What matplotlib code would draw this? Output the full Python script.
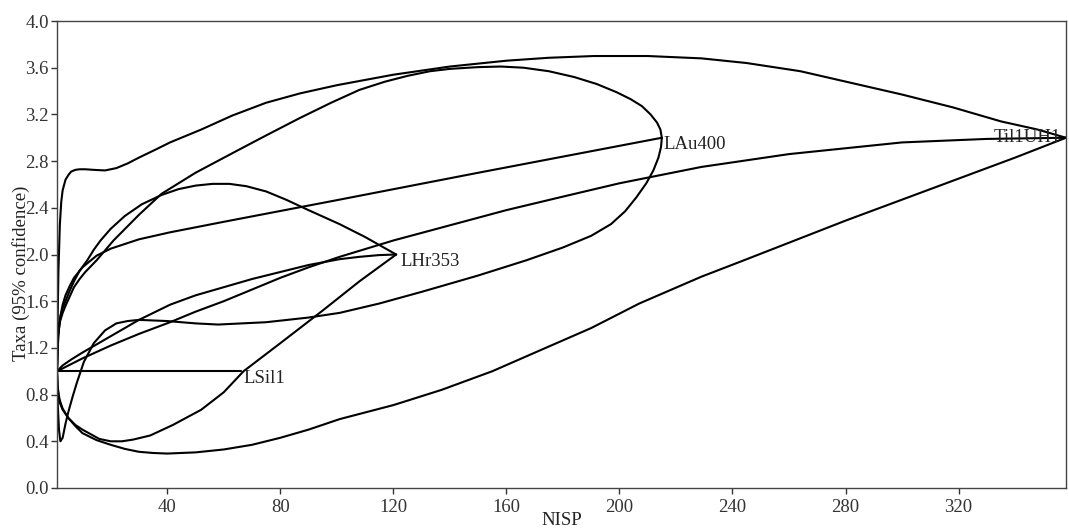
import matplotlib
matplotlib.use("Agg")
import matplotlib.pyplot as plt

# ---- data (NISP, taxa) ----
lsil1_x = [1, 66]
lsil1_y = [1.0, 1.0]

lhr_mean_x = [1, 3, 6, 10, 15, 20, 30, 41, 50, 60, 70, 80, 90, 101, 108, 115, 121]
lhr_mean_y = [1.0, 1.05, 1.1, 1.16, 1.23, 1.3, 1.44, 1.57, 1.65, 1.72, 1.79, 1.85, 1.91, 1.96, 1.98, 1.995, 2.0]
lhr_up_x = [1, 1.3, 2, 3, 4, 5.5, 7, 9, 11.7, 14, 16.4, 20, 25, 31, 38, 44, 50, 56, 62, 68, 75, 82, 90, 101, 110, 121]
lhr_up_y = [1.0, 1.3, 1.45, 1.54, 1.6, 1.69, 1.77, 1.86, 1.95, 2.04, 2.12, 2.22, 2.33, 2.43, 2.51, 2.56, 2.59, 2.605, 2.605, 2.585, 2.54, 2.47, 2.38, 2.26, 2.15, 2.0]
lhr_lo_x = [1, 1.2, 1.6, 2, 3, 5, 7.5, 10, 13, 16, 20, 24, 28, 34, 42, 52, 60, 67, 80, 95, 108, 121]
lhr_lo_y = [1.0, 0.88, 0.8, 0.75, 0.68, 0.6, 0.54, 0.5, 0.46, 0.42, 0.40, 0.40, 0.415, 0.45, 0.54, 0.67, 0.82, 1.0, 1.24, 1.52, 1.77, 2.0]

lau_mean_x = [1, 1.3, 1.7, 2.2, 3, 4, 5.5, 7, 10, 15, 20, 30, 41, 60, 101, 150, 215]
lau_mean_y = [1.0, 1.22, 1.36, 1.47, 1.57, 1.65, 1.73, 1.8, 1.89, 1.99, 2.05, 2.13, 2.19, 2.28, 2.47, 2.7, 3.0]
lau_up_x = [1, 1.3, 2, 3, 4, 5.5, 7, 9, 11, 15, 21, 30, 38, 50, 64, 75, 87, 98, 108, 117, 125, 133, 140, 150, 158, 166, 175, 184, 192, 199, 204, 208, 211, 213.3, 214.5, 215]
lau_up_y = [1.0, 1.3, 1.42, 1.5, 1.56, 1.64, 1.72, 1.79, 1.85, 1.95, 2.12, 2.34, 2.52, 2.7, 2.88, 3.02, 3.17, 3.3, 3.41, 3.48, 3.53, 3.57, 3.59, 3.605, 3.61, 3.6, 3.57, 3.52, 3.46, 3.39, 3.33, 3.27, 3.2, 3.13, 3.07, 3.0]
lau_lo_x = [1, 1.3, 1.7, 2.2, 3, 4, 5, 6.5, 8, 10.5, 14, 18, 22, 26, 30, 40, 50, 58, 75, 90, 101, 115, 130, 150, 167, 180, 190, 197, 202, 206, 209.5, 212, 213.8, 214.7, 215]
lau_lo_y = [1.0, 0.7, 0.5, 0.40, 0.43, 0.55, 0.65, 0.78, 0.9, 1.08, 1.24, 1.35, 1.41, 1.43, 1.44, 1.43, 1.41, 1.40, 1.42, 1.46, 1.50, 1.58, 1.68, 1.82, 1.95, 2.06, 2.16, 2.26, 2.37, 2.49, 2.61, 2.72, 2.83, 2.92, 3.0]

til_mean_x = [1, 10, 20, 30, 41, 50, 60, 70, 80, 90, 101, 120, 140, 160, 179, 200, 229, 260, 300, 330, 358]
til_mean_y = [1.0, 1.11, 1.22, 1.32, 1.42, 1.51, 1.6, 1.7, 1.8, 1.89, 1.98, 2.12, 2.25, 2.38, 2.49, 2.61, 2.75, 2.86, 2.96, 2.99, 3.0]
til_up_x = [1, 1.2, 1.5, 2, 2.5, 3, 4, 5, 6, 7.5, 9, 11, 14, 18, 22, 26, 30, 36, 41, 52, 63, 75, 87, 100, 120, 140, 160, 175, 191, 210, 229, 245, 264, 282, 300, 318, 335, 348, 358]
til_up_y = [1.0, 1.4, 1.85, 2.25, 2.45, 2.55, 2.64, 2.68, 2.71, 2.725, 2.73, 2.73, 2.725, 2.72, 2.74, 2.78, 2.83, 2.9, 2.96, 3.07, 3.19, 3.3, 3.38, 3.45, 3.54, 3.61, 3.66, 3.685, 3.70, 3.70, 3.68, 3.64, 3.57, 3.47, 3.37, 3.26, 3.14, 3.07, 3.0]
til_lo_x = [1, 1.2, 1.6, 2, 3, 5, 7.5, 10, 15, 20, 25, 30, 35, 40, 50, 60, 70, 80, 90, 101, 120, 137, 155, 172, 190, 207, 229, 244, 262, 280, 300, 320, 340, 358]
til_lo_y = [1.0, 0.86, 0.78, 0.73, 0.67, 0.6, 0.53, 0.47, 0.41, 0.37, 0.335, 0.31, 0.3, 0.295, 0.305, 0.33, 0.37, 0.43, 0.5, 0.59, 0.71, 0.84, 1.0, 1.18, 1.37, 1.58, 1.81, 1.95, 2.12, 2.29, 2.47, 2.65, 2.83, 3.0]

labels = ["LSil1", "LHr353", "LAu400", "Til1UH1"]
label_x = [66, 121, 215, 358]
label_y = [1.0, 2.0, 3.0, 3.0]

xticks = [40, 80, 120, 160, 200, 240, 280, 320]
yticks = [0.0, 0.4, 0.8, 1.2, 1.6, 2.0, 2.4, 2.8, 3.2, 3.6, 4.0]

# ---- figure ----
plt.rcParams['font.family'] = ['Liberation Serif', 'DejaVu Serif']
fig = plt.figure(figsize=(10.69, 5.29), dpi=100)
ax = fig.add_axes([57/1069, 1 - 488/529, (1066 - 57)/1069, (488 - 21)/529])

lw = 1.5
for xs, ys in [(lsil1_x, lsil1_y),
               (lhr_mean_x, lhr_mean_y), (lhr_up_x, lhr_up_y), (lhr_lo_x, lhr_lo_y),
               (lau_mean_x, lau_mean_y), (lau_up_x, lau_up_y), (lau_lo_x, lau_lo_y),
               (til_mean_x, til_mean_y), (til_up_x, til_up_y), (til_lo_x, til_lo_y)]:
    ax.plot(xs, ys, color='black', lw=lw, solid_joinstyle='round', solid_capstyle='round')

offs = [(3, -7, 'left'), (4, -7, 'left'), (2, -7, 'left'), (-5, 0, 'right')]
for lab, lx, ly, (dx, dy, ha) in zip(labels, label_x, label_y, offs):
    ax.annotate(lab, (lx, ly), xytext=(dx, dy), textcoords='offset pixels',
                ha=ha, va='center', fontsize=13.5, color='#222222')

ax.set_xlim(1, 358)
ax.set_ylim(0, 4.0)
ax.set_xticks(xticks)
ax.set_xticklabels([str(v) for v in xticks])
ax.set_yticks(yticks)
ax.set_yticklabels([f"{v:.1f}" for v in yticks])
ax.tick_params(direction='out', length=4, width=1, labelsize=13.5, colors='#333333', pad=2)
ax.tick_params(axis='x', pad=4)
for s in ax.spines.values():
    s.set_color('#444444')
    s.set_linewidth(1.0)

ax.set_xlabel("NISP", fontsize=13.5, color='#222222')
ax.set_ylabel("Taxa (95% confidence)", fontsize=13.5, color='#222222')
ax.yaxis.set_label_coords(-0.027, 0.46)
ax.xaxis.set_label_coords(0.5, -0.052)

fig.savefig("out.png", dpi=100)
